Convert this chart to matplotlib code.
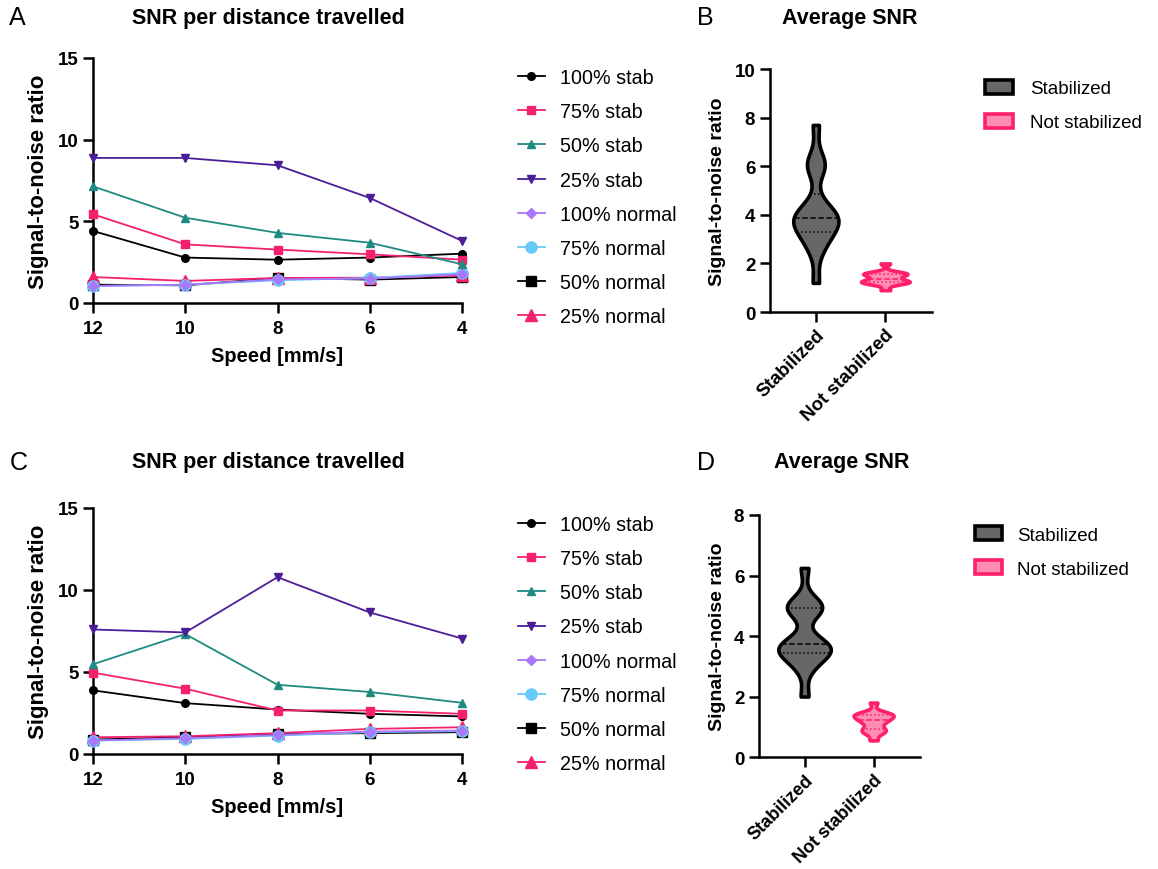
import numpy as np
import matplotlib
matplotlib.use("Agg")
import matplotlib.pyplot as plt
from matplotlib import mlab
from matplotlib.patches import Patch
from matplotlib.lines import Line2D

plt.rcParams['font.family'] = ['Liberation Sans', 'DejaVu Sans']

speeds = [12, 10, 8, 6, 4]
series_names = ["100% stab", "75% stab", "50% stab", "25% stab",
                "100% normal", "75% normal", "50% normal", "25% normal"]

# panel A values
snr_a = {
    "100% stab": [4.41, 2.78, 2.65, 2.78, 3.02],
    "75% stab": [5.43, 3.59, 3.27, 2.98, 2.65],
    "50% stab": [7.14, 5.22, 4.29, 3.69, 2.37],
    "25% stab": [8.88, 8.88, 8.43, 6.43, 3.80],
    "100% normal": [1.04, 1.12, 1.45, 1.49, 1.76],
    "75% normal": [1.04, 1.12, 1.39, 1.53, 1.84],
    "50% normal": [1.12, 1.08, 1.53, 1.43, 1.59],
    "25% normal": [1.59, 1.35, 1.53, 1.55, 1.69],
}

# panel C values
snr_c = {
    "100% stab": [3.88, 3.10, 2.71, 2.45, 2.29],
    "75% stab": [4.96, 3.98, 2.65, 2.65, 2.45],
    "50% stab": [5.47, 7.31, 4.22, 3.78, 3.12],
    "25% stab": [7.59, 7.41, 10.78, 8.63, 7.04],
    "100% normal": [0.82, 0.96, 1.16, 1.37, 1.43],
    "75% normal": [0.82, 0.92, 1.12, 1.33, 1.39],
    "50% normal": [0.88, 1.02, 1.22, 1.27, 1.33],
    "25% normal": [1.02, 1.08, 1.27, 1.53, 1.63],
}

# estimated per-run averages behind the violins
avg_b_stab = [1.2, 2.5, 2.9, 3.2, 3.3, 3.6, 3.75, 3.85, 3.9, 3.95, 4.1, 4.5, 5.95, 6.05, 6.2, 7.7]
avg_b_norm = [0.9, 1.15, 1.2, 1.22, 1.25, 1.28, 1.32, 1.42, 1.5, 1.55, 1.58, 1.6, 1.63, 2.0]
avg_d_stab = [2.0, 2.9, 3.2, 3.35, 3.45, 3.55, 3.6, 3.7, 3.75, 3.85, 4.75, 4.9, 4.95, 5.0, 5.15, 6.25]
avg_d_norm = [0.55, 0.8, 0.85, 0.9, 1.0, 1.15, 1.2, 1.25, 1.32, 1.38, 1.4, 1.42, 1.45, 1.8]
groups = ["Stabilized", "Not stabilized"]

styles = {
    "100% stab": dict(color="black", marker="o", ms=5.5),
    "75% stab": dict(color="#F5206E", marker="s", ms=5.5),
    "50% stab": dict(color="#1F8A82", marker="^", ms=5.5),
    "25% stab": dict(color="#4B1E98", marker="v", ms=5.5),
    "100% normal": dict(color="#A977FA", marker="D", ms=5),
    "75% normal": dict(color="#68C8F8", marker="o", ms=8),
    "50% normal": dict(color="black", marker="s", ms=7.5),
    "25% normal": dict(color="#F5206E", marker="^", ms=8),
}
draw_order = ["50% normal", "25% normal", "75% normal", "100% normal",
              "100% stab", "75% stab", "50% stab", "25% stab"]

stab_face, stab_edge = "#676767", "black"
norm_face, norm_edge = "#FF8DB2", "#FF1F6A"


def style_axes(ax, xpad=5):
    for side in ["top", "right"]:
        ax.spines[side].set_visible(False)
    for side in ["left", "bottom"]:
        ax.spines[side].set_linewidth(1.8)
    ax.tick_params(width=1.8, length=7, labelsize=13.5)
    ax.tick_params(axis="x", pad=xpad)
    for lab in ax.get_xticklabels() + ax.get_yticklabels():
        lab.set_fontweight("bold")


def line_panel(ax, data, legend_top):
    for name in draw_order:
        st = styles[name]
        ax.plot(speeds, data[name], color=st["color"], marker=st["marker"],
                ms=st["ms"], lw=1.3, clip_on=False, zorder=3)
    ax.set_xlim(12, 4)
    ax.set_ylim(0, 15)
    ax.set_xticks(speeds)
    ax.set_yticks([0, 5, 10, 15])
    style_axes(ax)
    ax.set_xlabel("Speed [mm/s]", fontsize=14.5, fontweight="bold", labelpad=7)
    ax.set_ylabel("Signal-to-noise ratio", fontsize=16, fontweight="bold", labelpad=6)
    handles = [Line2D([], [], color=styles[n]["color"], marker=styles[n]["marker"],
                      ms=styles[n]["ms"], lw=1.3) for n in series_names]
    fig.legend(handles, series_names, loc="upper left", bbox_to_anchor=(0.447, legend_top),
               frameon=False, fontsize=14.2, borderpad=0, borderaxespad=0,
               handlelength=1.37, handletextpad=0.76, labelspacing=0.77)


def violin_panel(ax, stab, norm, widths, ymax, yticks, legend_xy, textpad):
    sets = [stab, norm]
    faces = [stab_face, norm_face]
    edges = [stab_edge, norm_edge]
    bw = 0.32
    parts = ax.violinplot(sets, positions=[0, 1], widths=widths, showextrema=False,
                          bw_method=bw)
    for body, fc, ec in zip(parts["bodies"], faces, edges):
        body.set_facecolor(fc)
        body.set_edgecolor(ec)
        body.set_linewidth(2.6)
        body.set_alpha(1)
        body.set_zorder(2)
    for pos, vals, w, ec in zip([0, 1], sets, widths, edges):
        kde = mlab.GaussianKDE(np.asarray(vals), bw)
        grid = np.linspace(min(vals), max(vals), 100)
        peak = kde.evaluate(grid).max()
        q1, med, q3 = np.percentile(vals, [25, 50, 75])
        for q, ls in [(q1, ":"), (med, "--"), (q3, ":")]:
            hw = 0.5 * w * kde.evaluate([q])[0] / peak
            ax.plot([pos - hw, pos + hw], [q, q], color=ec, ls=ls, lw=1.1, zorder=3)
    ax.set_xlim(-0.66, 1.67)
    ax.set_ylim(0, ymax)
    ax.set_yticks(yticks)
    ax.set_xticks([0, 1])
    ax.set_xticklabels(groups, rotation=45, ha="right", rotation_mode="anchor")
    style_axes(ax, xpad=3)
    ax.set_ylabel("Signal-to-noise ratio", fontsize=14, fontweight="bold", labelpad=6)
    handles = [Patch(facecolor=stab_face, edgecolor=stab_edge, lw=2.6),
               Patch(facecolor=norm_face, edgecolor=norm_edge, lw=2.6)]
    fig.legend(handles, groups, loc="upper left", bbox_to_anchor=legend_xy,
               frameon=False, fontsize=13.5, borderpad=0, borderaxespad=0,
               handlelength=1.45, handleheight=0.75, handletextpad=textpad,
               labelspacing=0.88)


fig = plt.figure(figsize=(11.58, 8.70), dpi=100)

ax_a = fig.add_axes([0.0803, 0.6506, 0.3187, 0.2816])
ax_b = fig.add_axes([0.6649, 0.6402, 0.1399, 0.2793])
ax_c = fig.add_axes([0.0803, 0.1322, 0.3187, 0.2828])
ax_d = fig.add_axes([0.6554, 0.1287, 0.1390, 0.2782])

line_panel(ax_a, snr_a, 0.9207)
line_panel(ax_c, snr_c, 0.407)
violin_panel(ax_b, avg_b_stab, avg_b_norm, [0.65, 0.7], 10, [0, 2, 4, 6, 8, 10],
             (0.851, 0.907), 0.95)
violin_panel(ax_d, avg_d_stab, avg_d_norm, [0.76, 0.58], 8, [0, 2, 4, 6, 8],
             (0.842, 0.394), 0.8)
for lab in ax_d.get_xticklabels():
    lab.set_fontsize(13)

for title, x, y in [("SNR per distance travelled", 0.2315, 0.979),
                    ("Average SNR", 0.734, 0.979),
                    ("SNR per distance travelled", 0.2315, 0.468),
                    ("Average SNR", 0.727, 0.468)]:
    fig.text(x, y, title, fontsize=15.5, fontweight="bold", ha="center", va="center")

for letter, x, y in [("A", 0.008, 0.979), ("B", 0.602, 0.979),
                     ("C", 0.008, 0.468), ("D", 0.602, 0.468)]:
    fig.text(x, y, letter, fontsize=18, va="center", ha="left")

fig.savefig("out.png", dpi=100)
